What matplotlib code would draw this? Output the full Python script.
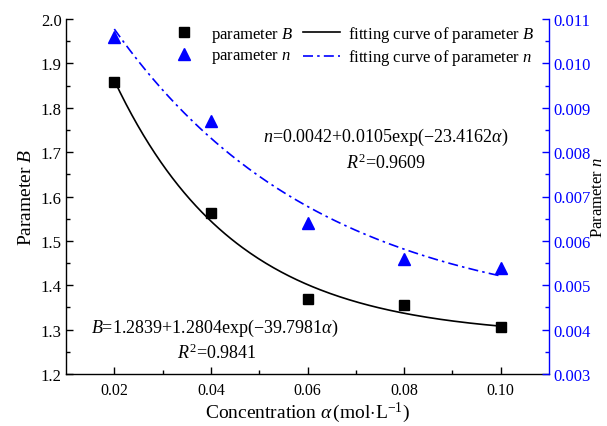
import numpy as np
import matplotlib
matplotlib.use("Agg")
import matplotlib.pyplot as plt
from matplotlib.lines import Line2D

plt.rcParams['font.family'] = ['Liberation Serif', 'DejaVu Serif']
plt.rcParams['mathtext.fontset'] = 'custom'
plt.rcParams['mathtext.rm'] = 'Liberation Serif'
plt.rcParams['mathtext.it'] = 'Liberation Serif:italic'
plt.rcParams['mathtext.bf'] = 'Liberation Serif:bold'

# data
concentration = [0.02, 0.04, 0.06, 0.08, 0.10]
param_B = [1.858, 1.562, 1.370, 1.355, 1.307]
param_n = [0.0106, 0.0087, 0.0064, 0.0056, 0.0054]
# fitted coefficients shown on the chart
B_fit = (1.2839, 1.2804, 39.7981)
n_fit = (0.0042, 0.0105, 23.4162)
x_ticks = [0.02, 0.04, 0.06, 0.08, 0.10]
x_ticklabels = ['0.02', '0.04', '0.06', '0.08', '0.10']

blue = '#0000ff'
fig = plt.figure(figsize=(6.07, 4.27), dpi=100)
ax = fig.add_axes([66/607, 1-375/427, (549-66)/607, (375-20)/427])
ax2 = ax.twinx()

xf = np.linspace(0.02, 0.10, 200)
yB = B_fit[0] + B_fit[1]*np.exp(-B_fit[2]*xf)
yn = n_fit[0] + n_fit[1]*np.exp(-n_fit[2]*xf)

ax.plot(xf, yB, color='black', lw=1.2)
ax.plot(concentration, param_B, 's', color='black', ms=6.5, clip_on=False, zorder=5)
ax2.plot(xf, yn, color=blue, lw=1.2, dashes=[6, 2.5, 1.5, 2.5])
ax2.plot(concentration, param_n, '^', color=blue, ms=8, clip_on=False, zorder=5)

ax.set_xlim(0.01, 0.11)
ax.set_ylim(1.2, 2.0)
ax2.set_ylim(0.003, 0.011)
ax.set_xticks(x_ticks)
ax.set_xticklabels(x_ticklabels)
ax.set_xticks([0.03, 0.05, 0.07, 0.09], minor=True)
ax.set_yticks(np.arange(1.2, 2.001, 0.1))
ax.set_yticks(np.arange(1.25, 2.0, 0.1), minor=True)
ax2.set_yticks(np.arange(0.003, 0.01101, 0.001))
ax2.set_yticks(np.arange(0.0035, 0.011, 0.001), minor=True)
ax2.yaxis.set_major_formatter(matplotlib.ticker.FormatStrFormatter('%.3f'))
ax.yaxis.set_major_formatter(matplotlib.ticker.FormatStrFormatter('%.1f'))

for a in (ax, ax2):
    a.spines['top'].set_visible(False)
ax.spines['right'].set_visible(False)
ax2.spines['left'].set_visible(False)
ax2.spines['bottom'].set_visible(False)
ax2.spines['right'].set_color(blue)
for s in ('left', 'bottom'):
    ax.spines[s].set_linewidth(1.0)
ax2.spines['right'].set_linewidth(1.0)

ax.tick_params(axis='both', which='major', direction='in', length=5, width=1, labelsize=12, pad=3)
ax.tick_params(axis='both', which='minor', direction='in', length=3, width=1)
ax.tick_params(axis='x', labelsize=11.5, pad=6)
ax2.tick_params(axis='y', which='major', direction='in', length=5, width=1, colors=blue, labelsize=12, pad=3)
ax2.tick_params(axis='y', which='minor', direction='in', length=3, width=1, colors=blue)

ax.set_xlabel(r'Concentration $\alpha\,$(mol$\cdot$L$^{-1}$)', fontsize=14, labelpad=1)
ax.set_ylabel(r'Parameter $B$', fontsize=14, labelpad=4)
ax2.set_ylabel(r'Parameter $n$', fontsize=12, rotation=90, va='center', ha='center')
ax2.yaxis.set_label_coords((598.5-66)/483, 0.5)

ax2.text(386, 427-137, r'$n$=0.0042+0.0105exp(−23.4162$\alpha$)', transform=None,
         ha='center', va='center', fontsize=13)
ax2.text(386, 427-163, r'$R^2$=0.9609', transform=None, ha='center', va='center', fontsize=13)
ax2.text(215, 427-328, r'$B$=1.2839+1.2804exp(−39.7981$\alpha$)', transform=None,
         ha='center', va='center', fontsize=13)
ax2.text(217, 427-353, r'$R^2$=0.9841', transform=None, ha='center', va='center', fontsize=13)

handles = [
    Line2D([], [], marker='s', color='black', ls='none', ms=6.5),
    Line2D([], [], marker='^', color=blue, ls='none', ms=8),
    Line2D([], [], color='black', lw=1.2),
    Line2D([], [], color=blue, lw=1.2, dashes=[6, 2.5, 1.5, 2.5]),
]
labels = [r'parameter $B$', r'parameter $n$',
          r'fitting curve of parameter $B$', r'fitting curve of parameter $n$']
leg = ax2.legend(handles, labels, ncol=2, frameon=False, fontsize=12,
                 loc='upper left', bbox_to_anchor=(166/607, 1-25/427),
                 bbox_transform=fig.transFigure, handlelength=2.2,
                 handletextpad=0.5, columnspacing=0.6, labelspacing=0.2,
                 borderaxespad=0, borderpad=0)

fig.savefig('out.png', dpi=100)
